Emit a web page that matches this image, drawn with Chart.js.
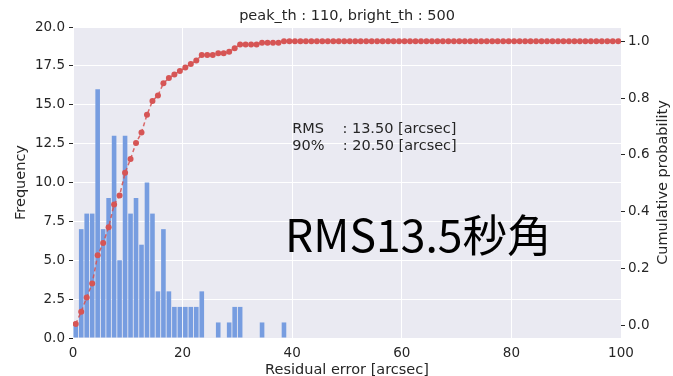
<!DOCTYPE html>
<html>
<head>
<meta charset="utf-8">
<script src="https://cdn.jsdelivr.net/npm/chart.js@4"></script>
<style>
  html, body { margin: 0; padding: 0; background: #fff; }
  #wrap { width: 673px; height: 376px; position: relative; }
</style>
</head>
<body>
<div id="wrap"><canvas id="errorChart"></canvas></div>
<script>
// histogram of residual errors, 1 arcsec bins starting at 0
const binStart = [0, 1, 2, 3, 4, 5, 6, 7, 8, 9, 10, 11, 12, 13, 14, 15, 16, 17, 18, 19,
                  20, 21, 22, 23, 24, 25, 26, 27, 28, 29, 30, 31, 32, 33, 34, 35, 36, 37, 38];
const counts = [1, 7, 8, 8, 16, 7, 9, 13, 5, 13, 8, 9, 6, 10, 8, 3, 7, 3, 2, 2,
                2, 2, 2, 3, 0, 0, 1, 0, 1, 2, 2, 0, 0, 0, 1, 0, 0, 0, 1];

// cumulative probability, one point per bin from 0 to 99
const cumProb = [0.006, 0.049, 0.099, 0.148, 0.247, 0.290, 0.346, 0.426, 0.457, 0.537,
                 0.586, 0.642, 0.679, 0.741, 0.790, 0.809, 0.852, 0.870, 0.883, 0.895,
                 0.907, 0.920, 0.932, 0.951, 0.951, 0.951, 0.957, 0.957, 0.963, 0.975,
                 0.988, 0.988, 0.988, 0.988, 0.994, 0.994, 0.994, 0.994, 1, 1,
                 1, 1, 1, 1, 1, 1, 1, 1, 1, 1,
                 1, 1, 1, 1, 1, 1, 1, 1, 1, 1,
                 1, 1, 1, 1, 1, 1, 1, 1, 1, 1,
                 1, 1, 1, 1, 1, 1, 1, 1, 1, 1,
                 1, 1, 1, 1, 1, 1, 1, 1, 1, 1,
                 1, 1, 1, 1, 1, 1, 1, 1, 1, 1];

const xTicks = [0, 20, 40, 60, 80, 100];
const freqTicks = [0, 2.5, 5, 7.5, 10, 12.5, 15, 17.5, 20];
const probTicks = [0, 0.2, 0.4, 0.6, 0.8, 1.0];

const titleText = 'peak_th : 110, bright_th : 500';
const statLines = ['RMS    : 13.50 [arcsec]', '90%    : 20.50 [arcsec]'];
const bigText = 'RMS13.5秒角';

const textColor = '#262626';
const font = 'DejaVu Sans';

// grey plot background + all the free text
const decorations = {
    id: 'decorations',
    beforeDraw(chart) {
        const { ctx, chartArea: a } = chart;
        ctx.save();
        ctx.fillStyle = '#eaeaf2';
        ctx.fillRect(a.left, a.top, a.right - a.left, a.bottom - a.top);
        ctx.restore();
    },
    afterDraw(chart) {
        const { ctx, chartArea: a, scales } = chart;
        const midX = (a.left + a.right) / 2;
        const midY = (a.top + a.bottom) / 2;
        ctx.save();
        ctx.fillStyle = textColor;
        ctx.textBaseline = 'middle';
        ctx.textAlign = 'center';
        ctx.font = `14.5px "${font}"`;
        ctx.fillText(titleText, midX, 16);
        ctx.fillText('Residual error [arcsec]', midX, 370);

        ctx.save();
        ctx.translate(21, midY);
        ctx.rotate(-Math.PI / 2);
        ctx.fillText('Frequency', 0, 0);
        ctx.restore();

        ctx.save();
        ctx.translate(663, midY);
        ctx.rotate(-Math.PI / 2);
        ctx.fillText('Cumulative probability', 0, 0);
        ctx.restore();

        // stats text in data coordinates
        ctx.textAlign = 'left';
        const sx = scales.x.getPixelForValue(40);
        ctx.fillText(statLines[0], sx, scales.y.getPixelForValue(13.4));
        ctx.fillText(statLines[1], sx, scales.y.getPixelForValue(12.35));

        ctx.fillStyle = '#000';
        ctx.textBaseline = 'alphabetic';
        ctx.font = '44.5px "Noto Sans CJK JP"';
        ctx.fillText(bigText, scales.x.getPixelForValue(38.7), scales.y.getPixelForValue(5.5));
        ctx.restore();
    }
};

const ctx = document.getElementById('errorChart').getContext('2d');
const errorChart = new Chart(ctx, {
    data: {
        datasets: [
            {
                type: 'line',
                label: 'Cumulative probability',
                data: cumProb.map((p, i) => ({ x: i + 0.5, y: p })),
                yAxisID: 'y2',
                borderColor: 'rgba(214, 80, 80, 0.85)',
                borderWidth: 1.5,
                borderDash: [4, 3],
                pointRadius: 3,
                pointBackgroundColor: '#d65555',
                pointBorderWidth: 0,
                order: 0
            },
            {
                type: 'bar',
                label: 'Frequency',
                data: counts.map((c, i) => ({ x: binStart[i] + 0.5, y: c })),
                yAxisID: 'y',
                backgroundColor: '#779de0',
                barPercentage: 0.84,
                categoryPercentage: 1,
                order: 1
            }
        ]
    },
    options: {
        responsive: true,
        maintainAspectRatio: false,
        animation: false,
        devicePixelRatio: 1,
        layout: { padding: { top: 27, left: 0, right: 0, bottom: 0 } },
        plugins: {
            legend: { display: false },
            title: { display: false },
            tooltip: { enabled: false }
        },
        scales: {
            x: {
                type: 'linear',
                min: 0,
                max: 100,
                offset: false,
                afterFit(scale) { scale.height = 38; },
                afterBuildTicks(scale) { scale.ticks = xTicks.map(v => ({ value: v })); },
                border: { display: false },
                grid: { offset: false, color: '#fff', lineWidth: 1, tickColor: 'rgba(0,0,0,0)', tickLength: 4 },
                ticks: { color: textColor, font: { family: font, size: 13.5 }, padding: 3, maxRotation: 0 }
            },
            y: {
                position: 'left',
                min: 0,
                max: 20,
                afterFit(scale) { scale.width = 73; },
                afterBuildTicks(scale) { scale.ticks = freqTicks.map(v => ({ value: v })); },
                border: { display: false },
                grid: { color: '#fff', lineWidth: 1, tickColor: textColor, tickLength: 4 },
                ticks: {
                    color: textColor, font: { family: font, size: 13.5 }, padding: 4,
                    callback: v => Number(v).toFixed(1)
                }
            },
            y2: {
                position: 'right',
                min: -0.0435,
                max: 1.0497,
                afterFit(scale) { scale.width = 52; },
                afterBuildTicks(scale) { scale.ticks = probTicks.map(v => ({ value: v })); },
                border: { display: false },
                grid: { drawOnChartArea: false, tickColor: textColor, tickLength: 4 },
                ticks: {
                    color: textColor, font: { family: font, size: 13.5 }, padding: 3,
                    callback: v => Number(v).toFixed(1)
                }
            }
        }
    },
    plugins: [decorations]
});
</script>
</body>
</html>
